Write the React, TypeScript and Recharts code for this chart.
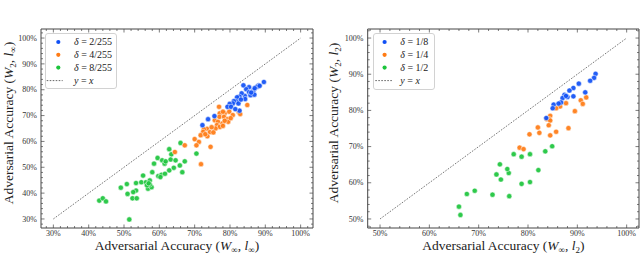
import React from 'react';
import { ScatterChart, Scatter, XAxis, YAxis, ReferenceLine, Legend, Label } from 'recharts';

// ---------- data (accuracy %, [x, y]) ----------
const leftBlue: [number, number][] = [
  [89.6, 83.0], [88.1, 81.7], [87.7, 81.2], [86.7, 79.9], [87.0, 80.6], [83.8, 81.7], [85.4, 81.0],
  [84.6, 80.2], [85.4, 79.1], [85.8, 77.9], [86.9, 78.1], [84.2, 77.6], [83.3, 78.6], [82.7, 77.3],
  [82.0, 77.1], [81.8, 75.5], [82.4, 74.7], [81.1, 75.6], [80.8, 74.7], [79.9, 74.5], [79.3, 73.4],
  [80.3, 73.4], [82.7, 71.9], [81.5, 72.5], [75.6, 69.8], [73.8, 68.6], [72.2, 66.3], [84.3, 76.4],
  [83.1, 76.2], [86.0, 78.9], [88.4, 81.5],
];
const leftOrange: [number, number][] = [
  [76.9, 73.4], [84.9, 74.1], [78.5, 70.9], [79.8, 71.5], [82.5, 71.4], [82.9, 70.6], [77.1, 70.9],
  [77.0, 69.5], [78.3, 69.5], [80.8, 70.2], [79.3, 68.6], [75.7, 68.2], [76.6, 67.6], [77.9, 67.0],
  [79.5, 67.6], [78.5, 68.0], [76.3, 66.3], [77.1, 65.6], [78.0, 66.0], [75.9, 65.0], [73.5, 64.9],
  [72.6, 64.7], [74.3, 63.6], [75.3, 63.5], [72.4, 63.7], [71.7, 62.4], [73.6, 62.0], [70.0, 60.9],
  [71.2, 59.8], [70.5, 58.5], [74.5, 57.9], [67.2, 58.5], [64.4, 55.9], [71.8, 51.2], [73.0, 62.8],
  [74.8, 65.5], [80.2, 69.0], [78.0, 71.5],
];
const leftGreen: [number, number][] = [
  [51.5, 29.8], [43.0, 37.1], [44.0, 38.0], [44.9, 36.8], [49.1, 42.1], [50.8, 43.5], [51.0, 39.7],
  [52.4, 38.0], [53.6, 38.0], [53.4, 41.0], [52.6, 40.4], [53.4, 43.9], [55.4, 46.8], [54.9, 44.2],
  [56.2, 44.2], [57.3, 44.9], [56.8, 41.7], [57.8, 42.3], [57.3, 43.3], [56.5, 43.0], [58.0, 48.1],
  [58.5, 51.4], [59.5, 53.6], [60.8, 52.7], [61.5, 51.4], [61.8, 52.3], [59.7, 46.6], [60.6, 47.1],
  [61.6, 47.5], [62.8, 48.8], [62.8, 57.0], [63.4, 55.0], [63.2, 53.0], [64.1, 49.8], [64.6, 52.7],
  [65.8, 50.7], [66.5, 48.1], [67.2, 52.3], [66.0, 59.4], [70.5, 55.3], [60.3, 46.2], [57.0, 43.8],
];
const rightBlue: [number, number][] = [
  [93.7, 90.1], [93.4, 89.0], [92.6, 88.2], [90.3, 87.4], [89.2, 86.2], [88.4, 85.5], [87.4, 84.3],
  [88.0, 83.7], [87.0, 83.4], [86.7, 82.2], [89.2, 83.9], [91.6, 85.0], [85.2, 81.6], [85.0, 80.6],
  [83.7, 77.9], [87.7, 84.0], [86.2, 81.9],
];
const rightOrange: [number, number][] = [
  [90.7, 82.8], [91.8, 83.6], [91.1, 81.8], [89.5, 79.8], [87.7, 82.0], [86.5, 81.1], [85.7, 80.6],
  [84.5, 78.5], [84.3, 77.6], [83.8, 77.6], [84.5, 77.2], [84.2, 75.9], [82.0, 75.3], [88.2, 75.1],
  [82.3, 73.8], [85.7, 74.1], [84.5, 73.1], [80.3, 73.4], [78.3, 69.7], [79.1, 69.3],
];
const rightGreen: [number, number][] = [
  [84.9, 70.1], [83.5, 68.7], [77.1, 67.9], [78.7, 67.2], [80.4, 67.9], [82.1, 63.5], [80.4, 60.2],
  [78.7, 59.7], [76.2, 56.3], [76.1, 62.7], [75.8, 63.8], [74.3, 65.1], [74.5, 60.9], [73.6, 62.3],
  [72.8, 56.7], [69.2, 57.8], [67.6, 56.9], [66.0, 53.4], [66.3, 51.1],
];

const leftTicks = [28, 30, 32, 34, 36, 38, 40, 42, 44, 46, 48, 50, 52, 54, 56, 58, 60, 62, 64, 66, 68, 70,
  72, 74, 76, 78, 80, 82, 84, 86, 88, 90, 92, 94, 96, 98, 100, 102];
const rightTicks = [48, 50, 52, 54, 56, 58, 60, 62, 64, 66, 68, 70, 72, 74, 76, 78, 80, 82, 84, 86, 88, 90,
  92, 94, 96, 98, 100, 102];
const leftDomain: [number, number] = [26.5, 103.5];
const rightDomain: [number, number] = [47.5, 102.5];
const leftDiag = [{ x: 30, y: 30 }, { x: 100, y: 100 }];
const rightDiag = [{ x: 50, y: 50 }, { x: 100, y: 100 }];
const leftLegend = ['2/255', '4/255', '8/255'];
const rightLegend = ['1/8', '1/4', '1/2'];

const BLUE = '#1050F5';
const ORANGE = '#FF7B14';
const GREEN = '#1CC43C';
const FRAME = '#444';
const FONT = 'Liberation Serif, Times New Roman, serif';

const toPts = (arr: [number, number][]) => arr.map(([x, y]) => ({ x, y }));

type Side = 'bottom' | 'top' | 'left' | 'right';
const makeTick = (side: Side, showLabel: boolean) => (props: any) => {
  const { x, y, payload } = props;
  const v = payload.value as number;
  const major = v % 10 === 0;
  const len = major ? 3.5 : 2;
  let l = { x1: x, y1: y, x2: x, y2: y };
  if (side === 'bottom') l = { x1: x, y1: y, x2: x, y2: y - len };
  if (side === 'top') l = { x1: x, y1: y, x2: x, y2: y + len };
  if (side === 'left') l = { x1: x, y1: y, x2: x + len, y2: y };
  if (side === 'right') l = { x1: x, y1: y, x2: x - len, y2: y };
  return (
    <g>
      <line {...l} stroke={FRAME} strokeWidth={0.7} />
      {showLabel && major && side === 'bottom' && (
        <text x={x} y={y + 8} textAnchor="middle" fontFamily={FONT} fontSize={8} fill="#333">{v}%</text>
      )}
      {showLabel && major && side === 'left' && (
        <text x={x - 4.2} y={y} dy="0.33em" textAnchor="end" fontFamily={FONT} fontSize={8} fill="#333">{v}%</text>
      )}
    </g>
  );
};

const Dot = (color: string) => (props: any) => (
  <circle cx={props.cx} cy={props.cy} r={2.6} fill={color} fillOpacity={0.92} stroke="#fff" strokeWidth={0.5} />
);

const TS = 13.5;
const SS = 9;

const XTitle = (sub2: string) => (props: any) => {
  const vb = props.viewBox;
  const cx = vb.x + vb.width / 2;
  const y = vb.y + 22;
  return (
    <text x={cx} y={y} textAnchor="middle" fontFamily={FONT} fontSize={TS} fill="#222">
      Adversarial Accuracy (<tspan fontStyle="italic">W</tspan>
      <tspan dy={3} fontSize={SS}>∞</tspan>
      <tspan dy={-3}>, </tspan>
      <tspan fontStyle="italic">l</tspan>
      <tspan dy={3} fontSize={SS}>{sub2}</tspan>
      <tspan dy={-3}>)</tspan>
    </text>
  );
};

const YTitle = (sub2: string, dx: number) => (props: any) => {
  const vb = props.viewBox;
  const x = vb.x + vb.width - dx;
  const y = vb.y + vb.height / 2 - 5.5;
  return (
    <text x={x} y={y} transform={`rotate(-90 ${x} ${y})`} textAnchor="middle" fontFamily={FONT} fontSize={TS} fill="#222">
      Adversarial Accuracy (<tspan fontStyle="italic">W</tspan>
      <tspan dy={3} fontSize={SS}>2</tspan>
      <tspan dy={-3}>, </tspan>
      <tspan fontStyle="italic">l</tspan>
      <tspan dy={3} fontSize={SS}>{sub2}</tspan>
      <tspan dy={-3}>)</tspan>
    </text>
  );
};

const LegendBox = ({ w, h, dotX, textX, lx1, lx2, labels }: any) => {
  const rows = [9, 21.8, 34.6, 47.6];
  const colors = [BLUE, ORANGE, GREEN];
  return (
    <svg width={w} height={h} style={{ display: 'block' }}>
      <rect x={0.5} y={0.5} width={w - 1} height={h - 1} rx={2.5} fill="#fff" fillOpacity={0.85} stroke="#d2d2d2" strokeWidth={1} />
      {labels.map((lab: string, i: number) => (
        <g key={lab}>
          <circle cx={dotX} cy={rows[i]} r={2.1} fill={colors[i]} />
          <text x={textX} y={rows[i]} dy="0.34em" fontFamily={FONT} fontSize={10} fill="#222">
            <tspan fontStyle="italic">δ</tspan> = {lab}
          </text>
        </g>
      ))}
      <line x1={lx1} x2={lx2} y1={rows[3]} y2={rows[3]} stroke="#666" strokeWidth={1} strokeDasharray="1.6 1.4" />
      <text x={textX} y={rows[3]} dy="0.34em" fontFamily={FONT} fontSize={10} fill="#222">
        <tspan fontStyle="italic">y</tspan> = <tspan fontStyle="italic">x</tspan>
      </text>
    </svg>
  );
};

interface PanelProps {
  blue: [number, number][];
  orange: [number, number][];
  green: [number, number][];
  domain: [number, number];
  ticks: number[];
  diag: { x: number; y: number }[];
  margin: { top: number; right: number; bottom: number; left: number };
  xSub: string;
  ySub: string;
  yTitleDx: number;
  legend: any;
  legendPos: { left: number; top: number; width: number; height: number };
}

const Panel = (p: PanelProps) => (
  <ScatterChart width={320} height={255} margin={p.margin}>
    <XAxis xAxisId="b" type="number" dataKey="x" domain={p.domain} allowDataOverflow ticks={p.ticks} interval={0}
      height={1} tickSize={0} tickMargin={0} tickLine={false} axisLine={{ stroke: FRAME, strokeWidth: 1 }}
      tick={makeTick('bottom', true)}>
      <Label content={XTitle(p.xSub)} />
    </XAxis>
    <YAxis yAxisId="l" type="number" dataKey="y" domain={p.domain} allowDataOverflow ticks={p.ticks} interval={0}
      width={1} tickSize={0} tickMargin={0} tickLine={false} axisLine={{ stroke: FRAME, strokeWidth: 1 }}
      tick={makeTick('left', true)}>
      <Label content={YTitle(p.ySub, p.yTitleDx)} />
    </YAxis>
    <XAxis xAxisId="t" orientation="top" type="number" dataKey="x" domain={p.domain} allowDataOverflow ticks={p.ticks}
      interval={0} height={1} tickSize={0} tickMargin={0} tickLine={false} axisLine={{ stroke: FRAME, strokeWidth: 1 }}
      tick={makeTick('top', false)} />
    <YAxis yAxisId="r" orientation="right" type="number" dataKey="y" domain={p.domain} allowDataOverflow ticks={p.ticks}
      interval={0} width={1} tickSize={0} tickMargin={0} tickLine={false} axisLine={{ stroke: FRAME, strokeWidth: 1 }}
      tick={makeTick('right', false)} />
    <ReferenceLine xAxisId="b" yAxisId="l" segment={p.diag} stroke="#777" strokeWidth={1} strokeDasharray="1.6 1.4" />
    <Scatter xAxisId="t" yAxisId="r" data={p.diag} shape={() => <g />} isAnimationActive={false} legendType="none" />
    <Scatter xAxisId="b" yAxisId="l" data={toPts(p.green)} shape={Dot(GREEN)} isAnimationActive={false} />
    <Scatter xAxisId="b" yAxisId="l" data={toPts(p.orange)} shape={Dot(ORANGE)} isAnimationActive={false} />
    <Scatter xAxisId="b" yAxisId="l" data={toPts(p.blue)} shape={Dot(BLUE)} isAnimationActive={false} />
    <Legend layout="vertical" align="center" verticalAlign="middle"
      wrapperStyle={{ position: 'absolute', left: p.legendPos.left, top: p.legendPos.top, width: p.legendPos.width, height: p.legendPos.height, margin: 0, padding: 0 }}
      content={() => p.legend} />
  </ScatterChart>
);

export default function App() {
  return (
    <div style={{ position: 'absolute', left: 0, top: 0, width: 640, height: 255, background: '#fff', display: 'flex' }}>
      <Panel blue={leftBlue} orange={leftOrange} green={leftGreen} domain={leftDomain} ticks={leftTicks} diag={leftDiag}
        margin={{ top: 28, right: 6, bottom: 26, left: 40 }} xSub="∞" ySub="∞" yTitleDx={28.5}
        legendPos={{ left: 45, top: 33, width: 72, height: 56 }}
        legend={<LegendBox w={72} h={56} dotX={13.3} textX={29} lx1={1.7} lx2={17.7} labels={leftLegend} />} />
      <Panel blue={rightBlue} orange={rightOrange} green={rightGreen} domain={rightDomain} ticks={rightTicks} diag={rightDiag}
        margin={{ top: 28, right: 0, bottom: 26, left: 46.7 }} xSub="2" ySub="2" yTitleDx={30.2}
        legendPos={{ left: 52.7, top: 32.7, width: 62, height: 57 }}
        legend={<LegendBox w={62} h={57} dotX={11.6} textX={27.3} lx1={2.3} lx2={19} labels={rightLegend} />} />
    </div>
  );
}
